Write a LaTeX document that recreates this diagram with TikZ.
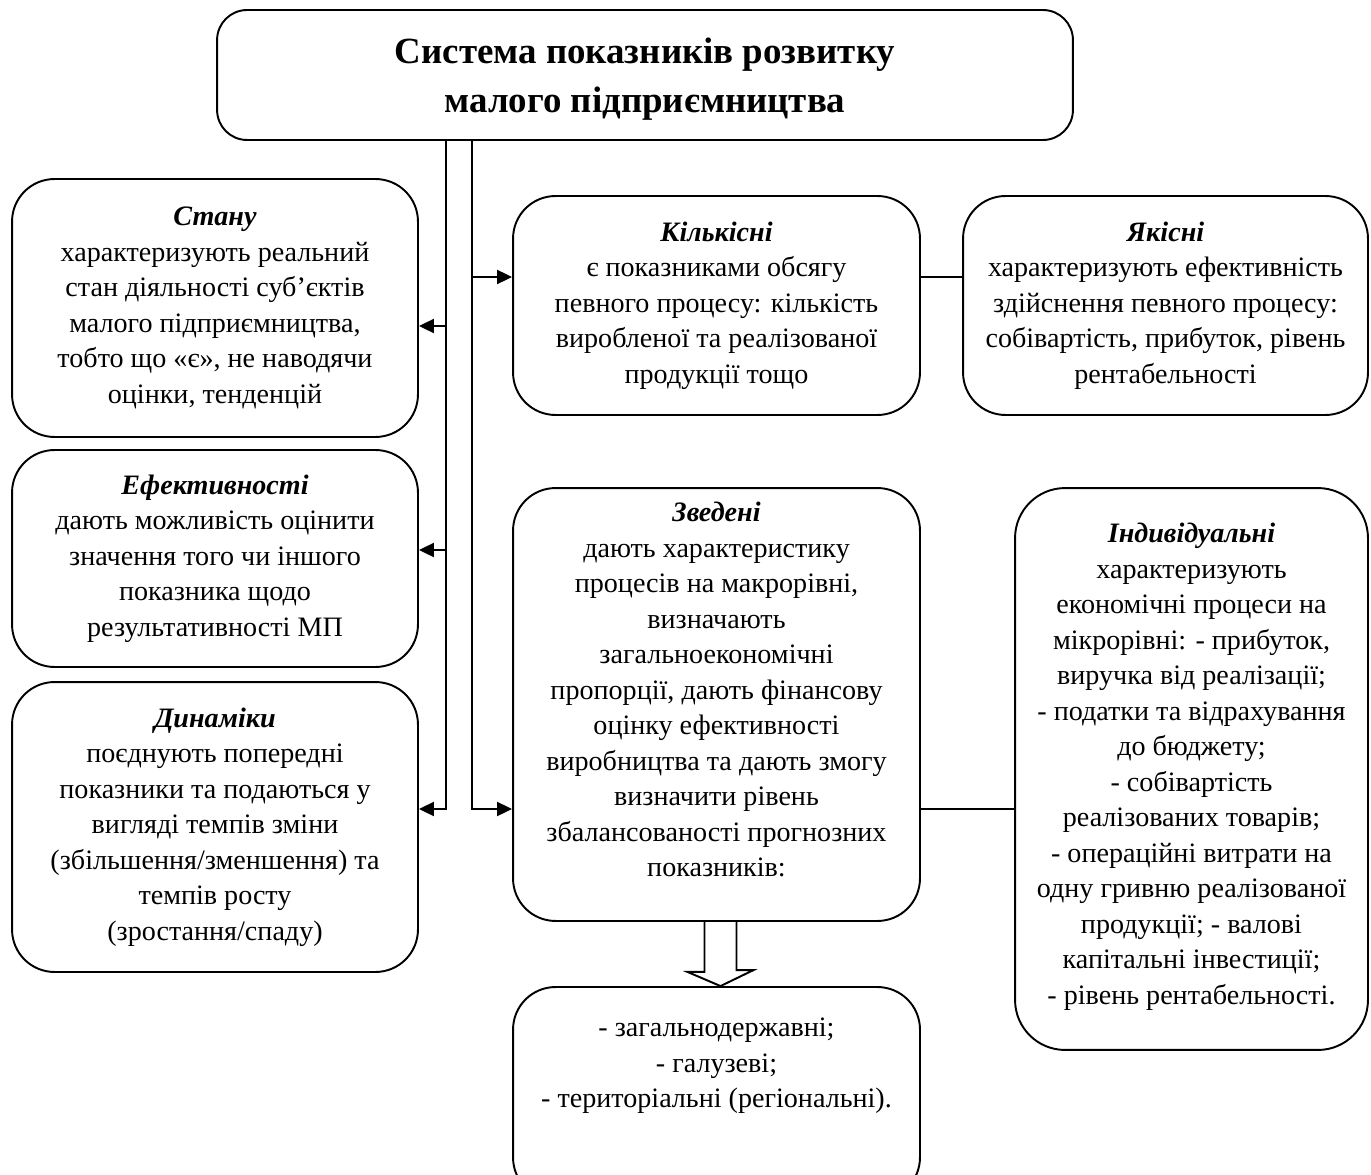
\documentclass[tikz,border=0pt]{standalone}
\usepackage{fontspec}
\setmainfont{Liberation Serif}
\usetikzlibrary{arrows.meta, calc}

\newcommand{\kindname}[1]{\textbf{\textit{#1}}}

\begin{document}
\begin{tikzpicture}[
    x=0.02cm, y=-0.02cm,
    line width=1.1pt,
    every node/.style={font=\fontsize{16}{20.2}\selectfont, align=center},
    box/.style={draw, rounded corners=#1, inner sep=0pt},
    box/.default=0.85cm,
    arrowline/.style={-{Triangle[length=0.3cm, width=0.28cm]}},
]
\useasboundingbox (0,0) rectangle (1371,1175);
\clip (0,0) rectangle (1371,1175);

%% Title
\node[box=0.6cm, minimum width=17.12cm, minimum height=2.6cm, text depth=0pt, font=\fontsize{21}{27.6}\selectfont\bfseries] (title) at (645,75) {Система показників розвитку\\малого підприємництва};

%% Left column
\node[box, minimum width=8.12cm, minimum height=5.16cm] (stanu) at (215,308) {\kindname{Стану}\\характеризують реальний\\стан діяльності суб’єктів\\малого підприємництва,\\тобто що «є», не наводячи\\оцінки, тенденцій};
\node[box, minimum width=8.12cm, minimum height=4.34cm] (efekt) at (215,558.5) {\kindname{Ефективності}\\дають можливість оцінити\\значення того чи іншого\\показника щодо\\результативності МП};
\node[box, minimum width=8.12cm, minimum height=5.8cm] (dynamiky) at (215,827) {\kindname{Динаміки}\\поєднують попередні\\показники та подаються у\\вигляді темпів зміни\\(збільшення/зменшення) та\\темпів росту\\(зростання/спаду)};

%% Middle and right
\node[box, minimum width=8.14cm, minimum height=4.38cm] (kilkisni) at (716.5,305.5) {\kindname{Кількісні}\\є показниками обсягу\\певного процесу: кількість\\виробленої та реалізованої\\продукції тощо};
\node[box, minimum width=8.1cm, minimum height=4.38cm] (yakisni) at (1165.5,305.5) {\kindname{Якісні}\\характеризують ефективність\\здійснення певного процесу:\\собівартість, прибуток, рівень\\рентабельності};
\node[box, minimum width=8.14cm, minimum height=8.66cm, text depth=17pt] (zvedeni) at (716.5,704.5) {\kindname{Зведені}\\дають характеристику\\процесів на макрорівні,\\визначають\\загальноекономічні\\пропорції, дають фінансову\\оцінку ефективності\\виробництва та дають змогу\\визначити рівень\\збалансованості прогнозних\\показників:};
\node[box=1cm, minimum width=7.06cm, minimum height=11.24cm, text depth=6pt] (indyv) at (1191.5,769) {\kindname{Індивідуальні}\\характеризують\\економічні процеси на\\мікрорівні: - прибуток,\\виручка від реалізації;\\- податки та відрахування\\до бюджету;\\- собівартість\\реалізованих товарів;\\- операційні витрати на\\одну гривню реалізованої\\продукції; - валові\\капітальні інвестиції;\\- рівень рентабельності.};
\node[box, minimum width=8.14cm, minimum height=4.26cm] (levels) at (716.5,1093.5) {};
\node (levelstext) at (716.5,1066) {- загальнодержавні;\\- галузеві;\\- територіальні (регіональні).};

%% Connections
\coordinate (lt1) at (446,326);
\coordinate (lt2) at (446,550);
\coordinate (lt3) at (446,809);
\coordinate (rt1) at (472,277);
\coordinate (rt2) at (472,809);

\draw[arrowline] (title.south -| lt3) -- (lt3) -- (lt3 -| dynamiky.east);
\draw[arrowline] (lt1) -- (lt1 -| stanu.east);
\draw[arrowline] (lt2) -- (lt2 -| efekt.east);
\draw[arrowline] (title.south -| rt2) -- (rt2) -- (rt2 -| zvedeni.west);
\draw[arrowline] (rt1) -- (rt1 -| kilkisni.west);

\draw (kilkisni.east |- rt1) -- (yakisni.west |- rt1);
\draw (zvedeni.east |- rt2) -- (indyv.west |- rt2);

%% Hollow arrow
\draw ($(zvedeni.south)+(-12,0)$) -- ++(0,50) -- ++(-17,0) -- ($(levels.north)+(4,0)$) -- ++(33,-16) -- ++(-17,0) -- ($(zvedeni.south)+(20,0)$);

\end{tikzpicture}
\end{document}
